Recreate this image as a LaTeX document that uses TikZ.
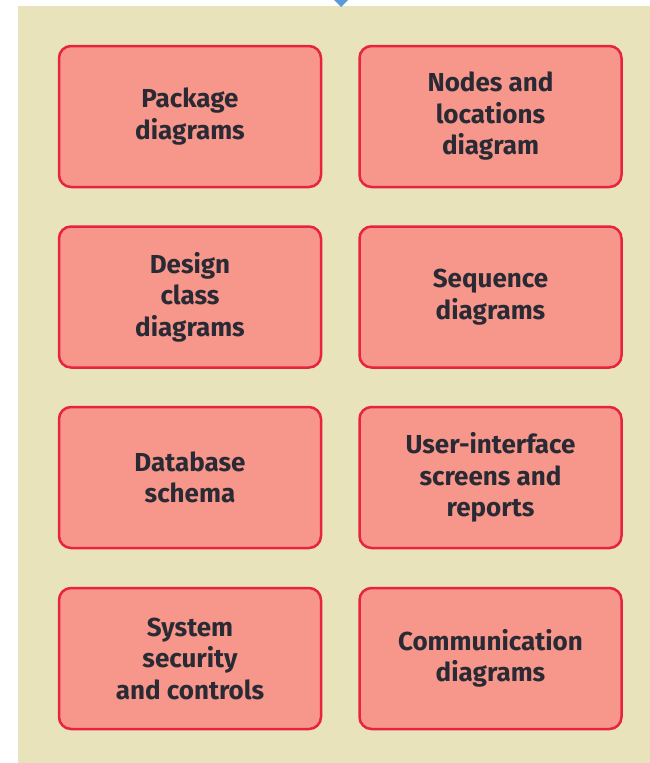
\documentclass[tikz,border=0pt]{standalone}
\usepackage{fontspec}
\setmainfont{Fira Sans}
\definecolor{bgbeige}{HTML}{E9E3BC}
\definecolor{boxfill}{HTML}{F7968A}
\definecolor{boxline}{HTML}{E8233F}
\definecolor{boxtext}{HTML}{2A2A34}
\definecolor{tipblue}{HTML}{5B9BD5}
\tikzset{
  artefact/.style={draw=boxline, fill=boxfill, line width=2.5pt, rounded corners=12pt,
    minimum width=262pt, minimum height=141pt, align=center, text=boxtext,
    font=\fontsize{26}{31.5}\selectfont\bfseries}
}
\begin{document}
\begin{tikzpicture}[x=1pt,y=-1pt]

			\useasboundingbox (0,0) rectangle (650,763);
			\fill[bgbeige] (18,6) rectangle (650,763);
			\coordinate (tl) at (334,0);
			\coordinate (tr) at (348,0);
			\coordinate (tb) at (341,7);
			\fill[tipblue] (tl) -- (tr) -- (tb) -- cycle;

			% left column
			\node[artefact] (package) at (190,116.5) {Package\\diagrams};
			\node[artefact] (design) at (190,297) {Design\\class\\diagrams};
			\node[artefact] (database) at (190,477.5) {Database\\schema};
			\node[artefact] (security) at (190,658.5) {System\\security\\and controls};

			% right column
			\node[artefact] (nodes) at (490.5,116.5) {Nodes and\\locations\\diagram};
			\node[artefact] (sequence) at (490.5,297) {Sequence\\diagrams};
			\node[artefact] (ui) at (490.5,477.5) {User-interface\\screens and\\reports};
			\node[artefact] (comm) at (490.5,658.5) {Communication\\diagrams};

		\end{tikzpicture}
\end{document}
